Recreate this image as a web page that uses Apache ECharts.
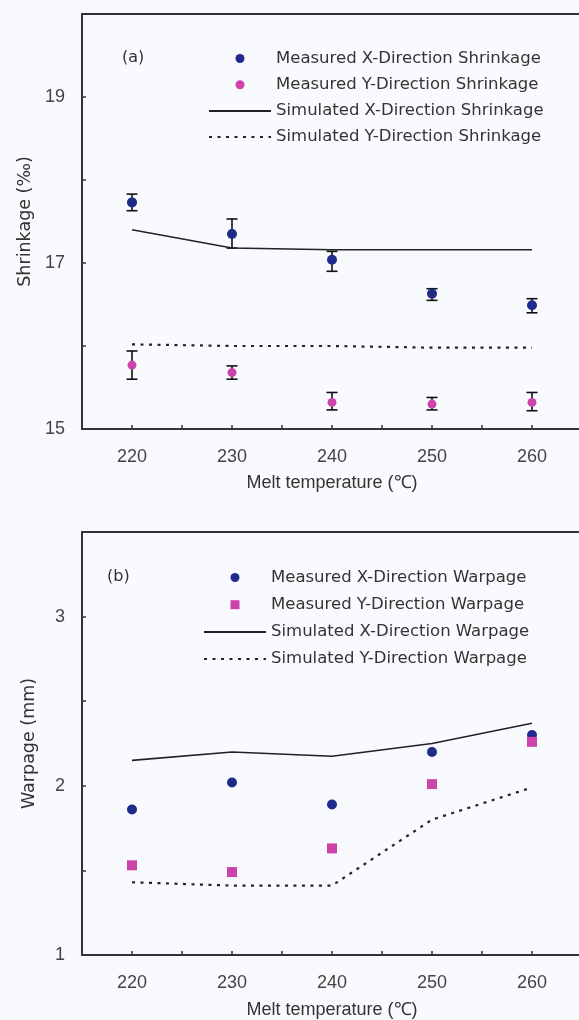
<!DOCTYPE html>
<html lang="en">

<head>
    <meta charset="UTF-8">
    <title>Shrinkage and warpage vs melt temperature</title>
    <style>
        html, body { margin: 0; padding: 0; background: #f9fafd; overflow: hidden; }
    </style>
</head>

<body>
    <!-- 比窗口略宽，右边框画在窗口外 -->
    <div id="main" style="width: 592px; height: 1020px;"></div>

    <script src="https://cdn.jsdelivr.net/npm/echarts@6/dist/echarts.min.js"></script>
    <script>
        // melt temperature (℃)
        var temps = [220, 230, 240, 250, 260];

        // (a) shrinkage (‰)
        var measXShrink = [17.73, 17.35, 17.04, 16.63, 16.49];
        var measXShrinkLow = [17.63, 17.18, 16.90, 16.55, 16.40];
        var measXShrinkHigh = [17.83, 17.53, 17.14, 16.69, 16.57];
        var measYShrink = [15.77, 15.68, 15.32, 15.30, 15.32];
        var measYShrinkLow = [15.60, 15.60, 15.23, 15.23, 15.22];
        var measYShrinkHigh = [15.94, 15.76, 15.44, 15.38, 15.44];
        var simXShrink = [17.40, 17.18, 17.16, 17.16, 17.16];
        var simYShrink = [16.02, 16.00, 16.00, 15.98, 15.98];

        // (b) warpage (mm)
        var measXWarp = [1.86, 2.02, 1.89, 2.20, 2.30];
        var measYWarp = [1.53, 1.49, 1.63, 2.01, 2.26];
        var simXWarp = [2.15, 2.20, 2.175, 2.25, 2.37];
        var simYWarp = [1.43, 1.41, 1.41, 1.80, 1.99];

        var navy = '#1f2b8a';
        var magenta = '#cc44aa';
        var axisColor = '#333333';
        var font = 'Liberation Sans, Arial, sans-serif';
        var wideFont = 'DejaVu Sans, sans-serif';
        var dots = [3, 5.5];

        function pairs(vals) {
            return temps.map(function (t, i) { return [t, vals[i]]; });
        }
        function bars(low, high) {
            return temps.map(function (t, i) { return [t, low[i], high[i]]; });
        }

        // 误差棒
        function errorBar(params, api) {
            var top = api.coord([api.value(0), api.value(2)]);
            var bot = api.coord([api.value(0), api.value(1)]);
            var w = 5.5;
            var st = { stroke: '#111', lineWidth: 1.6 };
            return {
                type: 'group',
                children: [
                    { type: 'line', shape: { x1: top[0], y1: top[1], x2: bot[0], y2: bot[1] }, style: st },
                    { type: 'line', shape: { x1: top[0] - w, y1: top[1], x2: top[0] + w, y2: top[1] }, style: st },
                    { type: 'line', shape: { x1: bot[0] - w, y1: bot[1], x2: bot[0] + w, y2: bot[1] }, style: st }
                ]
            };
        }

        function xAxisCfg(gridIndex, gap) {
            return {
                type: 'value', gridIndex: gridIndex,
                min: 215, max: 265, interval: 5,
                name: 'Melt temperature (℃)', nameLocation: 'middle', nameGap: gap,
                nameTextStyle: { fontFamily: font, fontSize: 18, color: '#333' },
                axisLine: { lineStyle: { color: axisColor, width: 2 } },
                axisTick: { inside: true, length: 4, lineStyle: { color: axisColor, width: 1.5 } },
                axisLabel: {
                    margin: 19, fontFamily: font, fontSize: 18, color: '#444',
                    formatter: function (v) { return (v % 10 === 0 && v >= 220 && v <= 260) ? v : ''; }
                },
                splitLine: { show: false }
            };
        }

        function yAxisCfg(gridIndex, name, min, max, interval, labelFn) {
            return {
                type: 'value', gridIndex: gridIndex,
                min: min, max: max, interval: interval,
                name: name, nameLocation: 'middle', nameGap: 44,
                nameTextStyle: { fontFamily: wideFont, fontSize: 17.5, color: '#333' },
                axisLine: { show: true, lineStyle: { color: axisColor, width: 2 } },
                axisTick: { show: true, inside: true, length: 4, lineStyle: { color: axisColor, width: 1.5 } },
                axisLabel: { margin: 17, fontFamily: font, fontSize: 18, color: '#444', formatter: labelFn },
                splitLine: { show: false }
            };
        }

        // 图例: 线条项隐藏中间的小圆点
        function legendCfg(left, top, gap, names, yIcon) {
            return {
                orient: 'vertical', left: left, top: top,
                itemWidth: 62, itemHeight: 9, itemGap: gap,
                textStyle: { fontFamily: wideFont, fontSize: 16.5, color: '#333' },
                data: [
                    { name: names[0] },
                    { name: names[1], icon: yIcon },
                    { name: names[2], itemStyle: { opacity: 0 } },
                    { name: names[3], itemStyle: { opacity: 0 } }
                ]
            };
        }

        var myChart = echarts.init(document.getElementById('main'));
        var option = {
            backgroundColor: '#f9fafd',
            animation: false,
            title: [
                { text: '(a)', left: 117, top: 45, textStyle: { fontFamily: wideFont, fontSize: 16, fontWeight: 'normal', color: '#333' } },
                { text: '(b)', left: 102, top: 564, textStyle: { fontFamily: wideFont, fontSize: 16, fontWeight: 'normal', color: '#333' } }
            ],
            legend: [
                legendCfg(203, 45, 9.2, ['Measured X-Direction Shrinkage', 'Measured Y-Direction Shrinkage',
                    'Simulated X-Direction Shrinkage', 'Simulated Y-Direction Shrinkage'], 'circle'),
                legendCfg(198, 564, 10.2, ['Measured X-Direction Warpage', 'Measured Y-Direction Warpage',
                    'Simulated X-Direction Warpage', 'Simulated Y-Direction Warpage'], 'path://M0,0L10,0L10,10L0,10Z')
            ],
            grid: [
                { left: 82, top: 14, width: 500, height: 415, show: true, borderColor: axisColor, borderWidth: 2, backgroundColor: 'transparent' },
                { left: 82, top: 532, width: 500, height: 426, show: true, borderColor: axisColor, borderWidth: 2, backgroundColor: 'transparent' }
            ],
            xAxis: [xAxisCfg(0, 45), xAxisCfg(1, 46)],
            yAxis: [
                yAxisCfg(0, 'Shrinkage (‰)', 15, 20, 1, function (v) { return (v - 15) % 2 === 0 ? v : ''; }),
                yAxisCfg(1, 'Warpage (mm)', 1, 3.5, 0.5, function (v) { return v % 1 === 0 ? v : ''; })
            ],
            series: [
                // ====== (a) ======
                {
                    name: 'Simulated X-Direction Shrinkage', type: 'line', xAxisIndex: 0, yAxisIndex: 0,
                    data: pairs(simXShrink), symbol: 'none',
                    lineStyle: { color: '#222', width: 1.6 }, itemStyle: { color: '#222' }
                },
                {
                    name: 'Simulated Y-Direction Shrinkage', type: 'line', xAxisIndex: 0, yAxisIndex: 0,
                    data: pairs(simYShrink), symbol: 'none',
                    lineStyle: { color: '#222', width: 2.2, type: dots }, itemStyle: { color: '#222' }
                },
                {
                    type: 'custom', xAxisIndex: 0, yAxisIndex: 0, renderItem: errorBar,
                    data: bars(measXShrinkLow, measXShrinkHigh), z: 3
                },
                {
                    type: 'custom', xAxisIndex: 0, yAxisIndex: 0, renderItem: errorBar,
                    data: bars(measYShrinkLow, measYShrinkHigh), z: 3
                },
                {
                    name: 'Measured X-Direction Shrinkage', type: 'scatter', xAxisIndex: 0, yAxisIndex: 0,
                    data: pairs(measXShrink), symbol: 'circle', symbolSize: 10,
                    itemStyle: { color: navy, opacity: 1 }, z: 4
                },
                {
                    name: 'Measured Y-Direction Shrinkage', type: 'scatter', xAxisIndex: 0, yAxisIndex: 0,
                    data: pairs(measYShrink), symbol: 'circle', symbolSize: 9,
                    itemStyle: { color: magenta, opacity: 1 }, z: 4
                },
                // ====== (b) ======
                {
                    name: 'Simulated X-Direction Warpage', type: 'line', xAxisIndex: 1, yAxisIndex: 1,
                    data: pairs(simXWarp), symbol: 'none',
                    lineStyle: { color: '#222', width: 1.6 }, itemStyle: { color: '#222' }
                },
                {
                    name: 'Simulated Y-Direction Warpage', type: 'line', xAxisIndex: 1, yAxisIndex: 1,
                    data: pairs(simYWarp), symbol: 'none',
                    lineStyle: { color: '#222', width: 2.2, type: dots }, itemStyle: { color: '#222' }
                },
                {
                    name: 'Measured X-Direction Warpage', type: 'scatter', xAxisIndex: 1, yAxisIndex: 1,
                    data: pairs(measXWarp), symbol: 'circle', symbolSize: 10,
                    itemStyle: { color: navy, opacity: 1 }, z: 4
                },
                {
                    name: 'Measured Y-Direction Warpage', type: 'scatter', xAxisIndex: 1, yAxisIndex: 1,
                    data: pairs(measYWarp), symbol: 'rect', symbolSize: 10,
                    itemStyle: { color: magenta, opacity: 1 }, z: 4
                }
            ]
        };
        myChart.setOption(option);
    </script>
</body>

</html>
